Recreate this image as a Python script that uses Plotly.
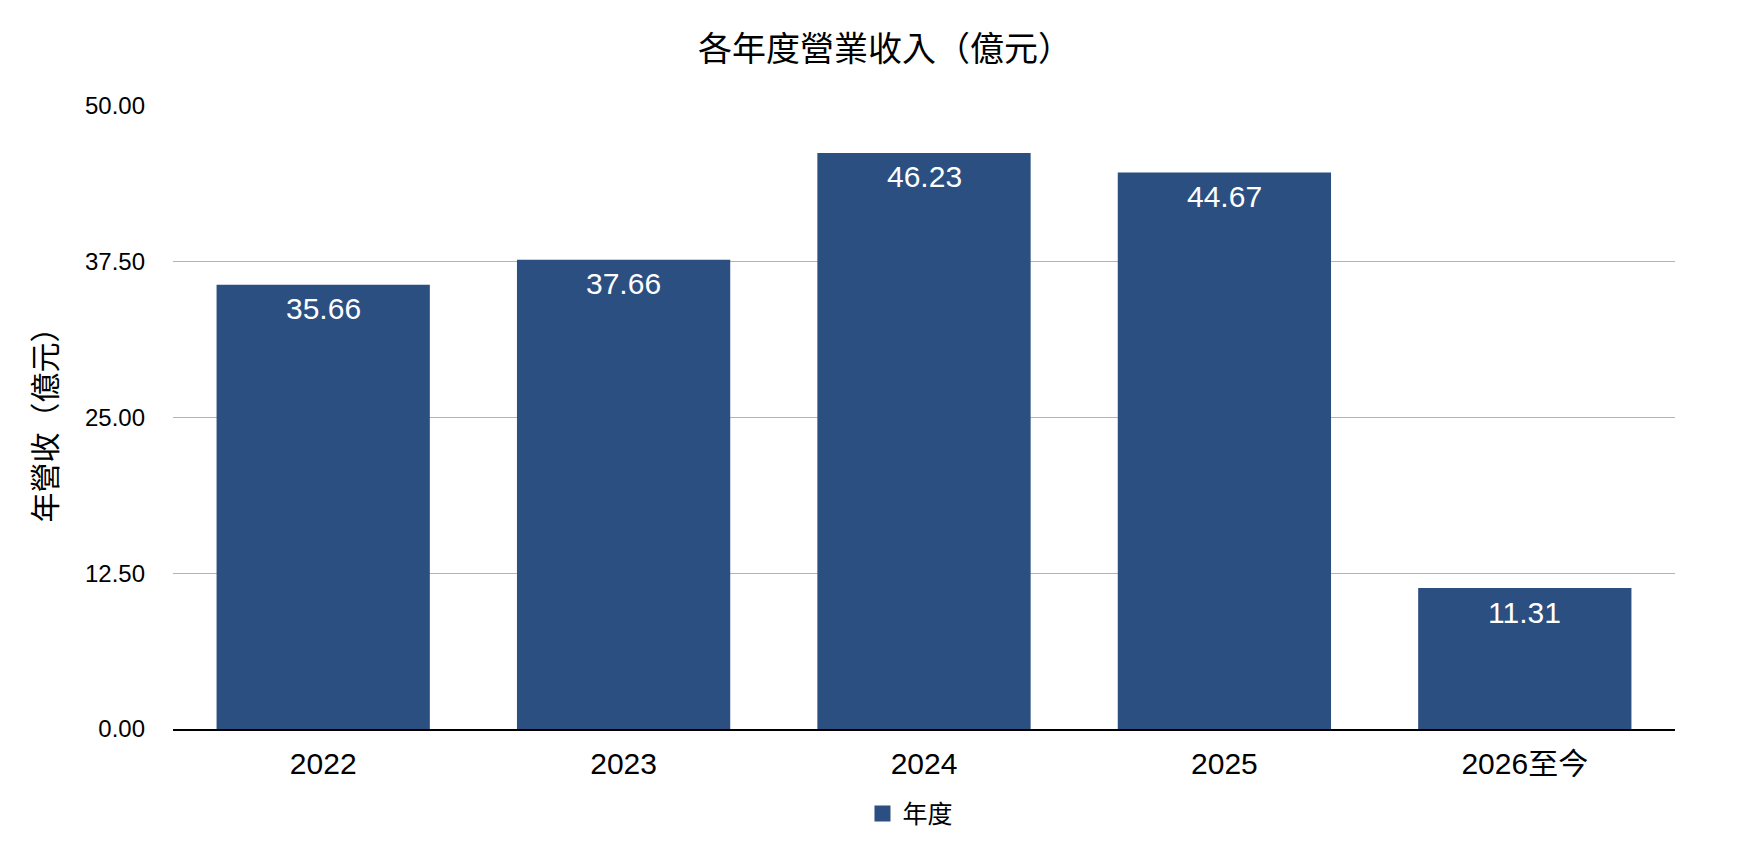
import plotly.graph_objects as go

categories = ["2022", "2023", "2024", "2025", "2026至今"]
revenue = [35.66, 37.66, 46.23, 44.67, 11.31]
y_ticks = [0, 12.5, 25, 37.5, 50]

BAR = "#2B4F81"
FONT = "Liberation Sans, Noto Sans CJK TC, sans-serif"

fig = go.Figure()
fig.add_trace(go.Bar(x=categories, y=revenue, name="年度", marker_color=BAR,
                     marker_line_width=0, hoverinfo="x+y", showlegend=False))
# legend entry with a larger square swatch
fig.add_trace(go.Scatter(x=[None], y=[None], mode="markers", name="年度",
                         marker=dict(symbol="square", size=16, color=BAR), showlegend=True))

# category axis: annotations positioned by category index
for i, v in enumerate(revenue):
    fig.add_annotation(x=i, y=v, xref="x", yref="y", text=f"{v:.2f}", showarrow=False,
                       yanchor="middle", yshift=-24,
                       font=dict(color="white", size=30, family=FONT))

fig.update_layout(
    width=1754, height=850,
    paper_bgcolor="white", plot_bgcolor="white",
    margin=dict(l=165, r=87, t=98, b=129),
    bargap=0.29,
    font=dict(family=FONT, color="black"),
    title=dict(text="各年度營業收入（億元）", x=0.5, xanchor="center", y=0.952, yanchor="middle",
               font=dict(size=34, color="black", family=FONT)),
    showlegend=True,
    legend=dict(orientation="h", x=0.491, xanchor="center", y=-0.136, yanchor="middle",
                font=dict(size=25, family=FONT)),
    xaxis=dict(type="category", categoryorder="array", categoryarray=categories,
               range=[-0.5, len(categories) - 0.5],
               showline=True, linecolor="black", linewidth=2, showgrid=False,
               tickfont=dict(size=30, family=FONT), ticks="", ticklabelstandoff=7),
    yaxis=dict(range=[0, 50], tickvals=y_ticks, tickformat=".2f", showgrid=True,
               gridcolor="#b3b3b3", gridwidth=1, zeroline=False,
               tickfont=dict(size=24, family=FONT), ticklabelstandoff=27,
               title=dict(text="年營收（億元）", font=dict(size=30, family=FONT), standoff=19)),
)

fig.write_html("out.html")
